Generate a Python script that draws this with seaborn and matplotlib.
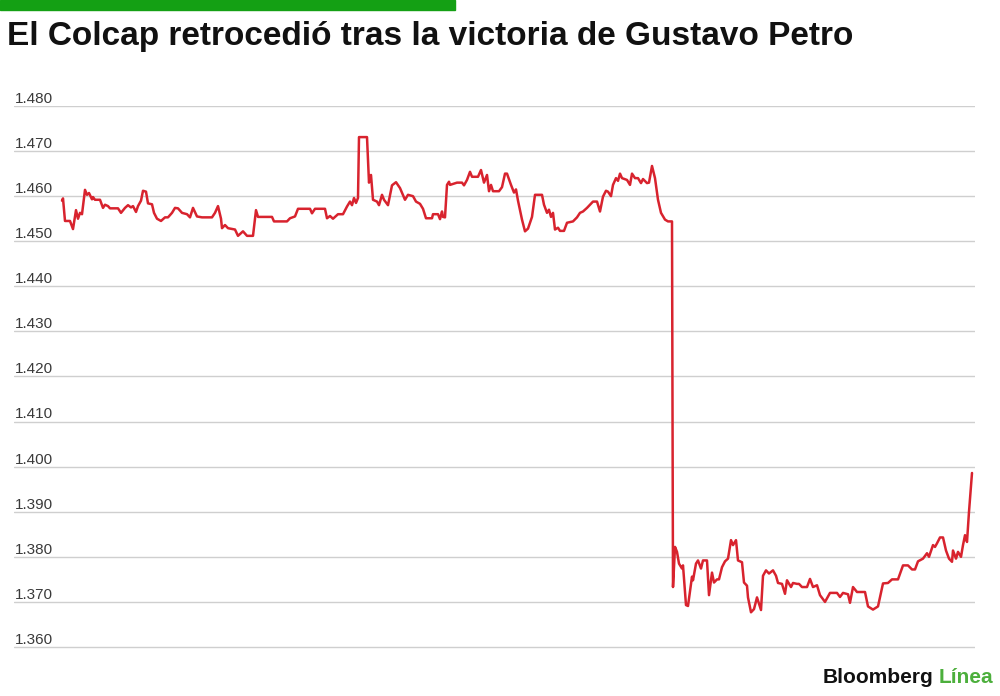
import matplotlib
matplotlib.use("Agg")
import matplotlib.pyplot as plt
import matplotlib.transforms as mtransforms
import seaborn as sns
import pandas as pd

# Colcap intradía (paso de tiempo, puntos)
minuto = [0, 1, 3, 8, 11, 14, 16, 18, 20, 23, 25, 27, 30, 31, 33, 38, 41, 43, 46, 48,
          56, 59, 63, 66, 69, 71, 74, 76, 79, 81, 84, 86, 90, 92, 95, 99, 103, 106, 110, 113,
          116, 120, 125, 128, 131, 135, 140, 150, 153, 156, 159, 160, 163, 166, 173, 176, 181, 185, 191, 194,
          196, 210, 212, 225, 228, 233, 236, 248, 250, 253, 263, 265, 268, 271, 276, 281, 285, 288, 290, 292,
          294, 296, 297, 305, 307, 309, 311, 315, 317, 320, 322, 326, 330, 334, 338, 343, 346, 351, 354, 358,
          361, 364, 370, 371, 376, 378, 380, 381, 383, 385, 387, 388, 395, 400, 402, 405, 408, 410, 416, 419,
          422, 425, 427, 429, 431, 437, 440, 443, 445, 449, 452, 454, 456, 460, 463, 466, 470, 473, 480, 482,
          485, 487, 489, 491, 493, 496, 498, 502, 505, 511, 515, 518, 521, 525, 528, 531, 535, 538, 541, 544,
          546, 549, 551, 554, 556, 558, 560, 565, 568, 570, 573, 576, 579, 581, 585, 587, 590, 593, 596, 599,
          603, 606, 610, 611, 613, 615, 617, 620, 621, 624, 626, 630, 631, 634, 636, 639, 641, 645, 647, 650,
          652, 655, 657, 660, 663, 666, 669, 671, 674, 676, 680, 682, 685, 686, 689, 692, 695, 699, 701, 704,
          707, 711, 714, 716, 720, 723, 725, 729, 731, 735, 737, 740, 745, 748, 751, 755, 758, 763, 768, 775,
          778, 781, 786, 788, 791, 795, 803, 806, 811, 816, 821, 826, 830, 836, 841, 846, 850, 853, 856, 861,
          865, 867, 871, 873, 875, 878, 881, 884, 887, 890, 891, 894, 896, 899, 901, 903, 905, 907, 910]
colcap = [1459.0, 1459.5, 1454.5, 1454.5, 1452.7, 1456.9, 1455.0, 1456.3, 1456.0, 1461.4,
          1460.3, 1460.7, 1459.3, 1459.8, 1459.2, 1459.2, 1457.4, 1458.1, 1457.8, 1457.3,
          1457.3, 1456.3, 1457.4, 1458.0, 1457.5, 1457.8, 1456.5, 1457.8, 1459.0, 1461.2,
          1461.0, 1458.4, 1458.2, 1456.3, 1455.0, 1454.5, 1455.3, 1455.3, 1456.3, 1457.4,
          1457.3, 1456.3, 1456.0, 1455.3, 1457.4, 1455.5, 1455.3, 1455.3, 1456.3, 1457.8,
          1455.0, 1452.9, 1453.6, 1452.9, 1452.6, 1451.2, 1452.2, 1451.2, 1451.2, 1456.9,
          1455.4, 1455.4, 1454.4, 1454.4, 1455.1, 1455.5, 1457.2, 1457.2, 1456.2, 1457.2,
          1457.2, 1455.1, 1455.6, 1455.0, 1456.0, 1456.0, 1457.7, 1458.8, 1458.0, 1459.6,
          1458.5, 1459.6, 1473.1, 1473.1, 1463.0, 1464.7, 1459.2, 1458.8, 1458.0, 1460.3,
          1459.2, 1458.0, 1462.4, 1463.1, 1461.8, 1459.2, 1460.3, 1460.0, 1458.8, 1458.3,
          1457.2, 1455.1, 1455.1, 1456.0, 1456.0, 1454.9, 1456.6, 1455.4, 1455.3, 1462.5,
          1463.2, 1462.5, 1463.0, 1463.0, 1462.4, 1463.6, 1465.4, 1464.3, 1464.3, 1465.8,
          1463.0, 1464.7, 1461.1, 1462.5, 1461.1, 1461.1, 1462.0, 1465.0, 1465.0, 1462.5,
          1460.8, 1461.5, 1459.0, 1454.8, 1452.2, 1452.8, 1455.4, 1460.3, 1460.3, 1458.1,
          1456.3, 1457.0, 1455.4, 1456.3, 1452.6, 1453.0, 1452.3, 1452.3, 1454.1, 1454.4,
          1455.3, 1456.3, 1456.6, 1457.4, 1458.1, 1458.8, 1458.8, 1456.6, 1459.9, 1461.2,
          1461.0, 1460.0, 1462.5, 1464.0, 1463.4, 1465.0, 1464.0, 1463.6, 1462.5, 1465.0,
          1464.0, 1464.0, 1462.9, 1463.8, 1462.9, 1463.0, 1466.7, 1464.0, 1459.2, 1456.3,
          1454.8, 1454.4, 1454.4, 1373.3, 1382.2, 1381.1, 1378.5, 1377.4, 1378.1, 1369.3,
          1369.1, 1375.6, 1374.8, 1378.5, 1379.2, 1377.4, 1379.2, 1379.2, 1371.5, 1376.5,
          1374.3, 1375.0, 1375.0, 1377.7, 1379.0, 1379.6, 1383.7, 1382.6, 1383.7, 1379.2,
          1378.8, 1374.3, 1373.6, 1371.0, 1367.7, 1368.4, 1371.0, 1368.2, 1375.8, 1377.0,
          1376.3, 1377.0, 1375.8, 1374.2, 1374.0, 1371.8, 1374.8, 1373.3, 1374.2, 1374.0,
          1374.0, 1373.3, 1373.3, 1375.1, 1373.3, 1373.7, 1371.5, 1370.0, 1372.0, 1372.0,
          1371.1, 1372.0, 1371.7, 1369.8, 1373.3, 1372.2, 1372.2, 1369.0, 1368.3, 1369.0,
          1374.1, 1374.2, 1375.0, 1375.0, 1378.1, 1378.1, 1377.2, 1377.2, 1379.0, 1379.6,
          1380.8, 1380.0, 1382.6, 1382.2, 1383.0, 1384.3, 1384.3, 1381.4, 1379.6, 1378.9,
          1381.4, 1379.6, 1381.1, 1380.0, 1382.6, 1384.8, 1383.3, 1390.0, 1398.6]

niveles = [1360, 1370, 1380, 1390, 1400, 1410, 1420, 1430, 1440, 1450, 1460, 1470, 1480]

titulo = "El Colcap retrocedió tras la victoria de Gustavo Petro"

df = pd.DataFrame({"minuto": minuto, "colcap": colcap})

sns.set_style("white")
plt.rcParams["font.family"] = ["Liberation Sans", "DejaVu Sans"]

# 1.480 at y=106 px, 1.360 at y=647 px; axes goes 2 points below 1.360
px_per_pt = (647 - 106) / 120
y_bottom = 647 + 2 * px_per_pt
fig = plt.figure(figsize=(10, 6.96), dpi=100)
ax = fig.add_axes([0.014, 1 - y_bottom / 696, 0.961, (y_bottom - 106) / 696])

# Gridlines
for v in niveles:
    ax.axhline(v, color="#cfcfcf", linewidth=1.0, zorder=1)

sns.lineplot(data=df, x="minuto", y="colcap", ax=ax, color="#d8232e",
             linewidth=1.8, zorder=3, sort=False)

ax.set_xlim(-48, 913)
ax.set_ylim(1358, 1480)
ax.set_xlabel("")
ax.set_ylabel("")
ax.set_xticks([])
ax.set_yticks([])
for s in ax.spines.values():
    s.set_visible(False)
ax.patch.set_alpha(0)

# y labels sit just above each gridline
trans = mtransforms.blended_transform_factory(ax.transAxes, ax.transData)
for v in niveles:
    etiqueta = f"{v:,}".replace(",", ".")
    ax.text(0.001, v + 0.7, etiqueta, transform=trans, ha="left", va="baseline",
            fontsize=11, color="#3a3a3a", clip_on=False)

# Header bar and title
fig.patches.append(plt.Rectangle((0, 1 - 10 / 696), 455 / 1000, 10 / 696,
                                 transform=fig.transFigure, color="#14a014", zorder=5))
fig.text(0.007, 1 - 45 / 696, titulo, fontsize=24, fontweight="bold",
         color="#111111", ha="left", va="baseline")

# Logo
fig.text(0.933, 1 - 683 / 696, "Bloomberg", fontsize=15, fontweight="bold",
         color="#111111", ha="right", va="baseline")
fig.text(0.993, 1 - 683 / 696, "Línea", fontsize=15, fontweight="bold",
         color="#4caf3c", ha="right", va="baseline")

fig.savefig("out.png", dpi=100, facecolor="white")
